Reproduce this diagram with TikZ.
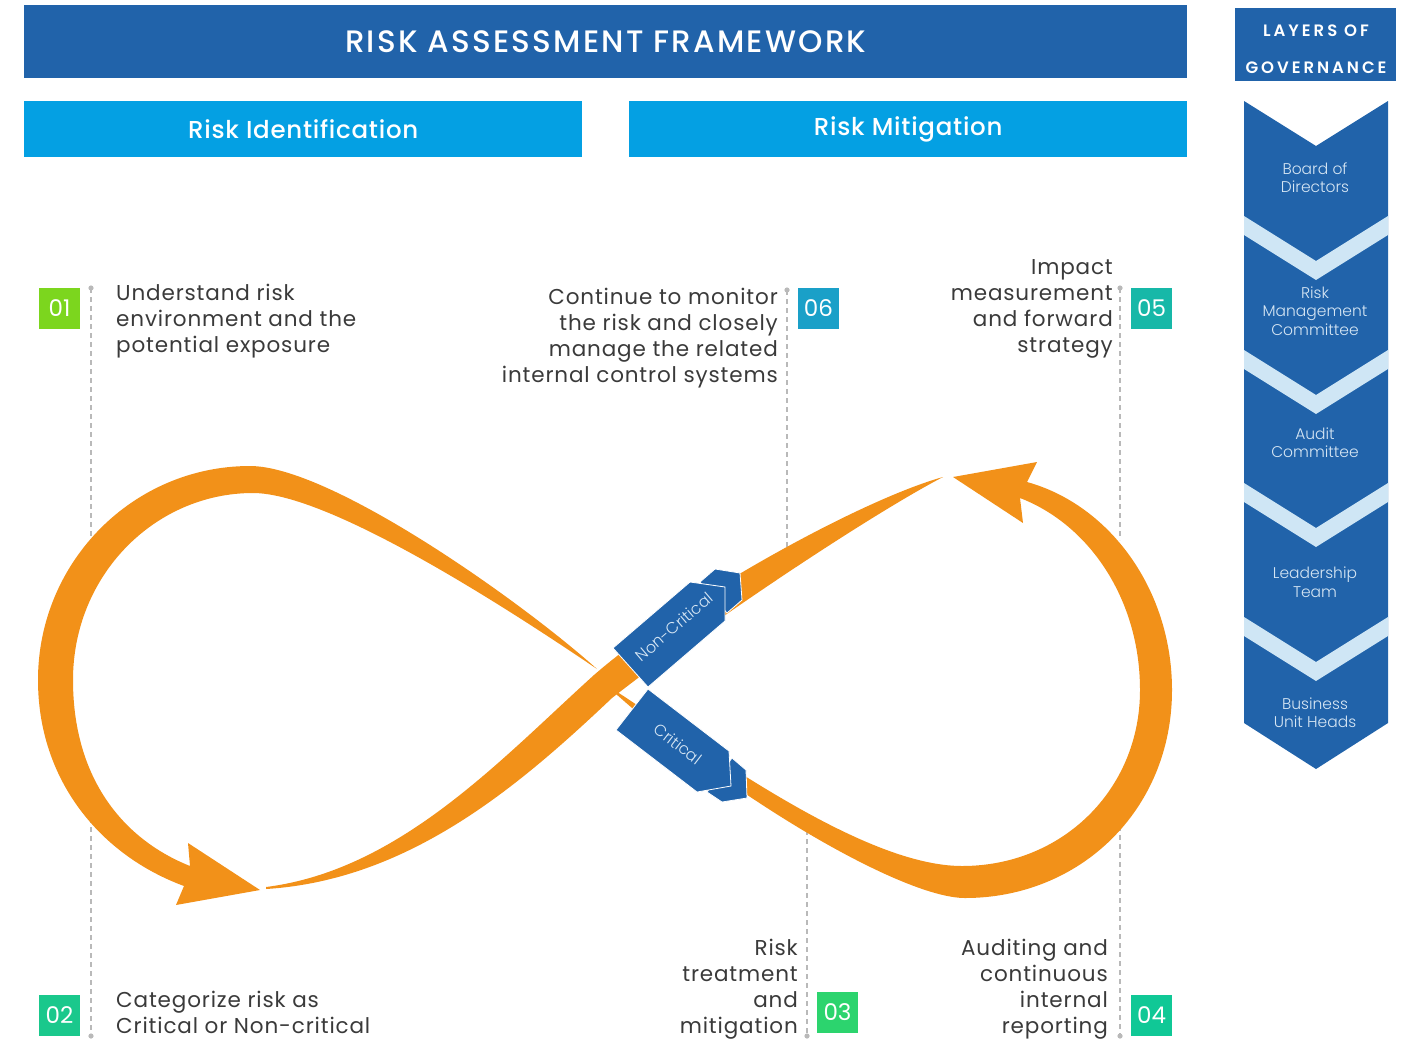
\documentclass[tikz,border=0pt]{standalone}
\usepackage{fontspec}
\setmainfont{Poppins}
\newfontfamily\descf{Poppins}[LetterSpace=4]
\IfFontExistsTF{Poppins Light}{\newfontfamily\lightc{Poppins Light}}{\newfontfamily\lightc{Poppins}}
\IfFontExistsTF{Poppins Medium}{\newfontfamily\medf{Poppins Medium}[LetterSpace=3]}{\newfontfamily\medf{Poppins}[LetterSpace=3]}
\IfFontExistsTF{Poppins Medium}{\newfontfamily\titlef{Poppins Medium}[LetterSpace=7]}{\newfontfamily\titlef{Poppins}[LetterSpace=7]}
\IfFontExistsTF{Poppins SemiBold}{\newfontfamily\semif{Poppins SemiBold}[LetterSpace=18]}{\newfontfamily\semif{Poppins}[LetterSpace=18]}
\definecolor{dblue}{RGB}{33,99,170}
\definecolor{bblue}{RGB}{4,160,227}
\definecolor{lband}{RGB}{207,230,245}
\definecolor{orng}{RGB}{242,145,25}
\definecolor{ctext}{RGB}{214,230,244}
\definecolor{btext}{RGB}{58,58,58}
\definecolor{dgray}{RGB}{185,185,185}
\definecolor{cA}{RGB}{124,214,30}
\definecolor{cB}{RGB}{26,200,140}
\definecolor{cC}{RGB}{44,212,110}
\definecolor{cD}{RGB}{16,200,150}
\definecolor{cE}{RGB}{23,184,168}
\definecolor{cF}{RGB}{26,160,200}
\begin{document}
\begin{tikzpicture}[x=1pt,y=-1pt,
  hdr/.style={fill=bblue,text=white,inner sep=0pt,minimum width=558pt,minimum height=56pt,anchor=north west,font=\fontsize{24.5}{28}\medf},
  badge/.style={inner sep=0pt,minimum size=41pt,text=white,font=\fontsize{23}{26}\selectfont},
  desc/.style={inner sep=0pt,text=btext,font=\fontsize{21.5}{25.8}\descf},
  chev/.style={inner sep=0pt,text=ctext,align=center,font=\fontsize{15.5}{18.5}\lightc},
  guide/.style={draw=dgray,line width=1.2pt,dash pattern=on 5pt off 4pt},
  gdot/.style={fill=dgray},
  tagshape/.style={fill=dblue,draw=white,line width=0.8pt,line join=miter},
  tagtext/.style={inner sep=0pt,text=ctext,font=\fontsize{16}{18}\lightc}
]
\useasboundingbox (0,0) rectangle (1412,1039);

% ---------- headers ----------
\node[fill=dblue,text=white,inner sep=0pt,minimum width=1163pt,minimum height=73pt,anchor=north west,font=\fontsize{31}{34}\titlef] (title) at (24,5) {RISK ASSESSMENT FRAMEWORK};
\node[hdr] (ident) at (24,101) {Risk Identification};
\node[hdr] (mitig) at (629,101) {Risk Mitigation};
\node[fill=dblue,inner sep=0pt,minimum width=161pt,minimum height=73pt,anchor=north west] (govbox) at (1235,8) {};
\node[inner sep=0pt,text=white,align=center,font=\fontsize{16.5}{37}\semif] (govtext) at (1316,49.5) {LAYERS OF\\GOVERNANCE};

% ---------- governance chevrons ----------
\fill[dblue] (1244,101) -- (1316,146) -- (1388,101) -- (1388,723) -- (1316,769) -- (1244,723) -- cycle;
\foreach \yy in {216,350,483,617}{
  \fill[lband] (1244,\yy) -- (1316,\yy+45) -- (1388,\yy) -- (1388,\yy+19) -- (1316,\yy+64) -- (1244,\yy+19) -- cycle;
}
\node[chev] (g1) at (1315,177.5) {Board of\\Directors};
\node[chev] (g2) at (1315,311) {Risk\\Management\\Committee};
\node[chev] (g3) at (1315,442.5) {Audit\\Committee};
\node[chev] (g4) at (1315,582) {Leadership\\Team};
\node[chev] (g5) at (1315,712.5) {Business\\Unit Heads};

% ---------- dashed guide lines ----------
\coordinate (a1) at (91,288);  \coordinate (a2) at (91,545);
\coordinate (a3) at (91,800);  \coordinate (a4) at (91,1036);
\coordinate (b1) at (787,290); \coordinate (b2) at (787,548);
\coordinate (c1) at (807,830); \coordinate (c2) at (807,1036);
\coordinate (e1) at (1120,288); \coordinate (e2) at (1120,540);
\coordinate (e3) at (1120,790); \coordinate (e4) at (1120,1036);
\draw[guide] (a1) -- (a2);
\draw[guide] (a3) -- (a4);
\draw[guide] (b1) -- (b2);
\draw[guide] (c1) -- (c2);
\draw[guide] (e1) -- (e2);
\draw[guide] (e3) -- (e4);
\foreach \p in {a1,a4,b1,c2,e1,e4}{\fill[gdot] (\p) circle (2.6pt);}

% ---------- infinity arrows ----------
% left loop, head at lower left
\fill[orng] (597,669)
  .. controls (520,600) and (330,466) .. (250,466)
  .. controls (133,466) and (38,562) .. (38,680)
  .. controls (38,780) and (100,855) .. (184,886)
  -- (176,905) -- (260,890) -- (188,843) -- (190,866)
  .. controls (120,838) and (73,775) .. (73,680)
  .. controls (73,575) and (155,493) .. (253,493)
  .. controls (330,493) and (510,610) .. (597,669) -- cycle;
% right loop, head at upper right
\fill[orng] (605,684)
  .. controls (700,745) and (860,866) .. (962,866)
  .. controls (1062,866) and (1140,790) .. (1140,690)
  .. controls (1140,600) and (1090,525) .. (1020,498)
  -- (1023,523) -- (953,477) -- (1037,462) -- (1027,482)
  .. controls (1110,505) and (1172,590) .. (1172,690)
  .. controls (1172,810) and (1080,898) .. (965,898)
  .. controls (900,898) and (720,790) .. (605,684) -- cycle;
% central crossing band
\fill[orng] (266,887)
  .. controls (400,870) and (500,760) .. (594,675)
  .. controls (680,600) and (860,500) .. (943,477)
  .. controls (870,515) and (705,625) .. (612,698)
  .. controls (520,785) and (410,880) .. (266,889) -- cycle;

% ---------- tags ----------
\filldraw[tagshape] (700,582) -- (715,569) -- (740,573) -- (742,600) -- (727,613) -- cycle;
\filldraw[tagshape] (613,648) -- (690,582) -- (725,587) -- (725,621) -- (648,687) -- cycle;
\node[tagtext,rotate=40.6] (nc) at (674,627) {Non-Critical};
\filldraw[tagshape] (732,758) -- (746,770) -- (747,798) -- (722,802) -- (707,792) -- cycle;
\filldraw[tagshape] (648,689) -- (729,751) -- (731,786) -- (697,792) -- (616,730) -- cycle;
\node[tagtext,rotate=-37.4] (cr) at (678,744) {Critical};

% ---------- badges ----------
\node[badge,fill=cA] (n1) at (59.5,308.5) {01};
\node[badge,fill=cB] (n2) at (59.5,1015.5) {02};
\node[badge,fill=cC] (n3) at (837.5,1012.5) {03};
\node[badge,fill=cD] (n4) at (1151.5,1015) {04};
\node[badge,fill=cE] (n5) at (1151.5,308.5) {05};
\node[badge,fill=cF] (n6) at (818.5,308.5) {06};

% ---------- descriptions (base = last line) ----------
\node[desc,align=left,anchor=base west] (t1) at (116,352) {Understand risk\\environment and the\\potential exposure};
\node[desc,align=right,anchor=base east] (t6) at (778,382) {Continue to monitor\\the risk and closely\\manage the related\\internal control systems};
\node[desc,align=right,anchor=base east] (t5) at (1113,352) {Impact\\measurement\\and forward\\strategy};
\node[desc,align=left,anchor=base west] (t2) at (116,1033) {Categorize risk as\\Critical or Non-critical};
\node[desc,align=right,anchor=base east] (t3) at (798,1033) {Risk\\treatment\\and\\mitigation};
\node[desc,align=right,anchor=base east] (t4) at (1108,1033) {Auditing and\\continuous\\internal\\reporting};
\end{tikzpicture}
\end{document}
